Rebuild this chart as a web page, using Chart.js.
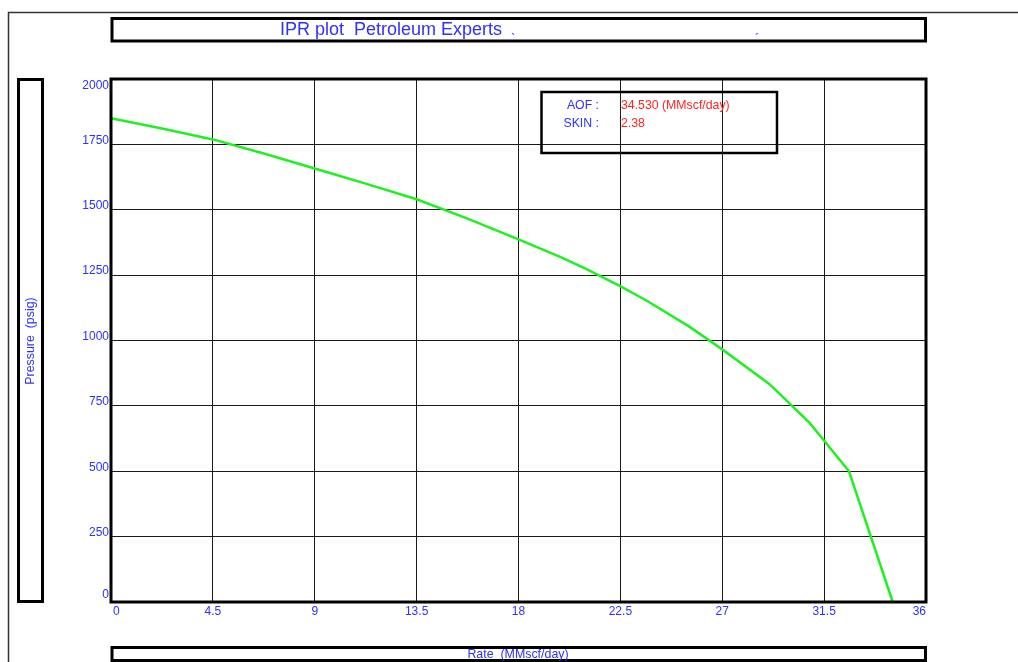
<!DOCTYPE html>
<html>
<head>
<meta charset="utf-8">
<script src="https://cdn.jsdelivr.net/npm/chart.js@4.4.1/dist/chart.umd.min.js"></script>
<style>
html,body{margin:0;padding:0;background:#fff;}
#wrap{position:relative;width:1018px;height:662px;}
</style>
</head>
<body>
<div id="wrap"><canvas id="c" width="1018" height="662"></canvas></div>
<script>
// ---- data ----
const rates = [0, 2.25, 4.5, 6.75, 9, 11.25, 13.5, 15.75, 18, 19.84, 20.94, 22.49, 23.67, 25.51, 27, 29.09, 30.86, 32.6, 34.53];
const pressures = [1850, 1811, 1769, 1715, 1658, 1600, 1540, 1466, 1387, 1320, 1276, 1208, 1152, 1055, 966, 833, 685, 500, 0];
const xTickValues = [0, 4.5, 9, 13.5, 18, 22.5, 27, 31.5, 36];
const xTickLabels = ['0', '4.5', '9', '13.5', '18', '22.5', '27', '31.5', '36'];
const yTickValues = [0, 250, 500, 750, 1000, 1250, 1500, 1750, 2000];
const yTickLabels = ['0', '250', '500', '750', '1000', '1250', '1500', '1750', '2000'];
const titleText = 'IPR plot  Petroleum Experts';
const xTitle = 'Rate  (MMscf/day)';
const yTitle = 'Pressure  (psig)';
const infoKeys = ['AOF :', 'SKIN :'];
const infoValues = ['34.530 (MMscf/day)', '2.38'];

const BLUE = '#2f2fff';
const RED = '#ff2424';
const FONT = '"Liberation Sans", Arial, sans-serif';

const decor = {
  id: 'decor',
  beforeDraw(chart) {
    const ctx = chart.ctx;
    ctx.save();
    ctx.fillStyle = '#fff';
    ctx.fillRect(0, 0, chart.width, chart.height);
    // outer frame
    ctx.strokeStyle = '#333';
    ctx.lineWidth = 1.5;
    ctx.beginPath();
    ctx.moveTo(1018, 12.5); ctx.lineTo(8.5, 12.5); ctx.lineTo(8.5, 662);
    ctx.stroke();
    // title box
    ctx.strokeStyle = '#000';
    ctx.lineWidth = 3;
    ctx.strokeRect(112, 18.5, 813.5, 22.5);
    ctx.fillStyle = BLUE;
    ctx.font = '18px ' + FONT;
    ctx.textAlign = 'left';
    ctx.textBaseline = 'middle';
    ctx.fillText(titleText, 280, 30);
    ctx.font = '13px ' + FONT;
    ctx.fillText('`', 511, 39);
    ctx.fillText('\u00b4', 755, 39);
    // y title box
    ctx.strokeRect(18.5, 79.5, 24, 522);
    ctx.save();
    ctx.translate(31, 341);
    ctx.rotate(-Math.PI / 2);
    ctx.font = '12.4px ' + FONT;
    ctx.textAlign = 'center';
    ctx.fillText(yTitle, 0, 0);
    ctx.restore();
    // x title box
    ctx.strokeRect(112, 647.5, 813.5, 13);
    ctx.font = '12.4px ' + FONT;
    ctx.textAlign = 'center';
    ctx.fillText(xTitle, 518, 654.5);
    ctx.restore();
  },
  afterDatasetsDraw(chart) {
    const ctx = chart.ctx;
    const a = chart.chartArea;
    const xs = chart.scales.x, ys = chart.scales.y;
    ctx.save();
    // plot border
    ctx.strokeStyle = '#000';
    ctx.lineWidth = 3;
    ctx.strokeRect(a.left, a.top, a.right - a.left, a.bottom - a.top);
    // tick labels
    ctx.fillStyle = BLUE;
    ctx.font = '12px ' + FONT;
    ctx.textBaseline = 'middle';
    xTickValues.forEach((v, i) => {
      const px = xs.getPixelForValue(v);
      ctx.textAlign = i === 0 ? 'left' : (i === xTickValues.length - 1 ? 'right' : 'center');
      ctx.fillText(xTickLabels[i], i === 0 ? px + 2 : px, 612);
    });
    ctx.textAlign = 'right';
    yTickValues.forEach((v, i) => {
      const py = ys.getPixelForValue(v);
      let off = -4;
      if (i === 0) off = -7;
      if (i === yTickValues.length - 1) off = 7;
      ctx.fillText(yTickLabels[i], 109, py + off);
    });
    // info box
    ctx.strokeStyle = '#000';
    ctx.lineWidth = 2.5;
    ctx.strokeRect(541.5, 92, 235.5, 61);
    ctx.font = '12.3px ' + FONT;
    ctx.fillStyle = BLUE;
    ctx.textAlign = 'right';
    ctx.fillText(infoKeys[0], 599, 106);
    ctx.fillText(infoKeys[1], 599, 124);
    ctx.fillStyle = RED;
    ctx.textAlign = 'left';
    ctx.fillText(infoValues[0], 621, 106);
    ctx.fillText(infoValues[1], 621, 124);
    ctx.restore();
  }
};

new Chart(document.getElementById('c'), {
  type: 'line',
  data: {
    datasets: [{
      data: rates.map((r, i) => ({x: r, y: pressures[i]})),
      borderColor: '#1ff01f',
      borderWidth: 2.5,
      pointRadius: 0,
      tension: 0,
      fill: false,
      clip: false
    }]
  },
  plugins: [decor],
  options: {
    responsive: false,
    animation: false,
    devicePixelRatio: 1,
    layout: {padding: {left: 111, top: 79, right: 92, bottom: 60}},
    plugins: {legend: {display: false}, tooltip: {enabled: false}, title: {display: false}},
    scales: {
      x: {
        type: 'linear', min: 0, max: 36,
        afterBuildTicks: s => { s.ticks = xTickValues.map(v => ({value: v})); },
        ticks: {display: false},
        grid: {color: '#1a1a1a', lineWidth: 1, drawTicks: false},
        border: {display: false}
      },
      y: {
        type: 'linear', min: 0, max: 2000,
        afterBuildTicks: s => { s.ticks = yTickValues.map(v => ({value: v})); },
        ticks: {display: false},
        grid: {color: '#1a1a1a', lineWidth: 1, drawTicks: false},
        border: {display: false}
      }
    }
  }
});
</script>
</body>
</html>
